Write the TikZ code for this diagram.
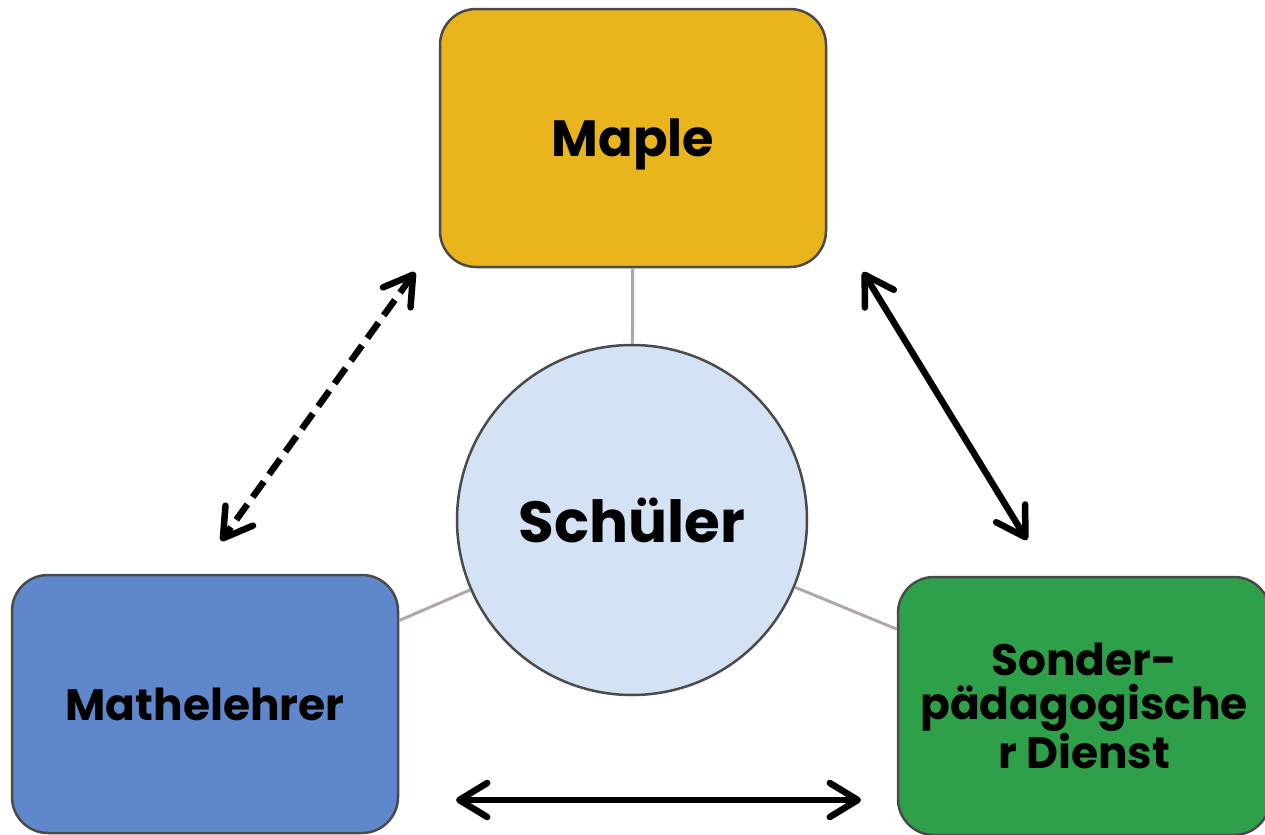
\documentclass[tikz,border=0pt]{standalone}
\usepackage{fontspec}
\setmainfont{Poppins}
\usetikzlibrary{arrows.meta}

\newlength{\du}
\setlength{\du}{0.02cm}

\definecolor{maplecolor}{rgb}{0.914, 0.706, 0.110}
\definecolor{mathecolor}{rgb}{0.373, 0.533, 0.800}
\definecolor{sondercolor}{rgb}{0.180, 0.627, 0.290}
\definecolor{schuelercolor}{rgb}{0.827, 0.886, 0.957}
\definecolor{rimcolor}{rgb}{0.290, 0.290, 0.290}
\definecolor{linkcolor}{rgb}{0.690, 0.650, 0.690}

\tikzset{
  box/.style={draw=rimcolor, line width=2.5\du, rounded corners=36\du,
    minimum width=386\du, minimum height=258\du, align=center,
    inner sep=0pt, font=\bfseries},
  hub/.style={circle, draw=rimcolor, line width=2.5\du, fill=schuelercolor,
    minimum size=350\du, inner sep=0pt,
    font=\bfseries\fontsize{33}{36}\selectfont},
  link/.style={draw=linkcolor, line width=3\du},
  barb/.tip={Straight Barb[length=0.56cm, width=0.68cm, line cap=round, line join=round]},
  relation/.style={line width=6.5\du, {barb}-{barb}},
  loose/.style={relation, dash pattern=on 19\du off 9\du}
}

\begin{document}
\begin{tikzpicture}
\pgftransformxscale{1.000000}
\pgftransformyscale{-1.000000}
\useasboundingbox (0\du,0\du) rectangle (1265\du,835\du);

% boxes and hub
\node[box, fill=maplecolor, text depth=0pt, font=\bfseries\fontsize{29}{34}\selectfont] (maple) at (633\du,138\du) {Maple};
\node[box, fill=mathecolor, font=\bfseries\fontsize{25}{30}\selectfont] (mathe) at (205\du,704\du) {Mathelehrer};
\node[box, fill=sondercolor, minimum width=372\du, font=\bfseries\fontsize{25}{25}\selectfont] (sonder) at (1084\du,706\du) {Sonder-\\pädagogische\\r Dienst};
\node[hub] (schueler) at (632\du,520\du) {Schüler};

% links to the hub
\draw[link] (schueler) -- (maple);
\draw[link] (schueler) -- (mathe);
\draw[link] (schueler) -- (sonder);

% free arrow ends
\coordinate (mapleL) at (415\du,272\du);
\coordinate (matheT) at (221\du,541\du);
\coordinate (mapleR) at (863\du,272\du);
\coordinate (sonderT) at (1027\du,540\du);
\coordinate (matheR) at (456\du,800\du);
\coordinate (sonderL) at (861\du,800\du);

\draw[loose] (mapleL) -- (matheT);
\draw[relation] (mapleR) -- (sonderT);
\draw[relation] (matheR) -- (sonderL);
\end{tikzpicture}
\end{document}
